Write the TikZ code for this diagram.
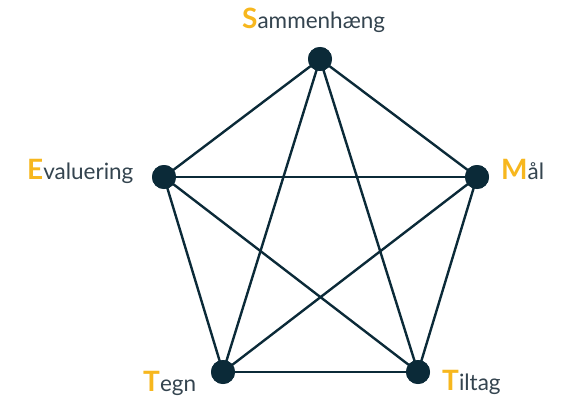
\documentclass[tikz,border=0pt]{standalone}
\usepackage{fontspec}
\setmainfont{Lato}
\definecolor{edgec}{HTML}{0B2A38}
\definecolor{txtc}{HTML}{34444F}
\definecolor{accent}{HTML}{F7B71E}
\begin{document}
\begin{tikzpicture}[x=1pt,y=-1pt,
  dot/.style={circle,fill=edgec,draw=none,minimum size=24pt,inner sep=0pt},
  link/.style={draw=edgec,line width=2.4pt},
  lbl/.style={anchor=base west,inner sep=0pt,text=txtc,font=\fontsize{22.5}{24}\selectfont},
  ]
\newcommand{\ini}[1]{{\color{accent}\fontsize{28}{28}\selectfont\bfseries #1}}
\useasboundingbox (0,0) rectangle (565,396);
\node[dot] (S) at (320,59) {};
\node[dot] (M) at (477,177) {};
\node[dot] (Ti) at (418,372) {};
\node[dot] (Te) at (223,372) {};
\node[dot] (E) at (164,177) {};
\foreach \a/\b in {S/M,S/Ti,S/Te,S/E,M/Ti,M/Te,M/E,Ti/Te,Ti/E,Te/E}
  \draw[link] (\a.center) -- (\b.center);
\foreach \n in {S,M,Ti,Te,E} \node[dot] at (\n) {};
\node[lbl] (lS) at (242,29) {\ini{S}ammenhæng};
\node[lbl] (lE) at (27,179) {\ini{E}valuering};
\node[lbl] (lM) at (501,179) {\ini{M}ål};
\node[lbl] (lTe) at (143,391) {\ini{T}egn};
\node[lbl] (lTi) at (442,390) {\ini{T}iltag};
\end{tikzpicture}
\end{document}
